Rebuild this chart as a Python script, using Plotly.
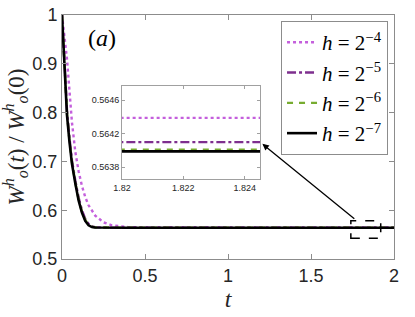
import plotly.graph_objects as go

# time samples
t = [0, 0.015, 0.03, 0.045, 0.06, 0.08, 0.1, 0.12, 0.14, 0.16, 0.18, 0.2,
     0.25, 0.3, 0.4, 0.5, 1.0, 1.5, 1.8, 1.85, 2.0]

# normalised energy W_o^h(t)/W_o^h(0) for each mesh size
w_h4 = [1.0, 0.955, 0.91, 0.845, 0.78, 0.72, 0.68, 0.65, 0.627, 0.61, 0.598, 0.589,
        0.575, 0.569, 0.5652, 0.5646, 0.56439, 0.56439, 0.56439, 0.56439, 0.56439]
w_h5 = [1.0, 0.902, 0.805, 0.748, 0.702, 0.661, 0.626, 0.600, 0.582, 0.572, 0.567, 0.5652,
        0.5644, 0.5642, 0.56411, 0.5641, 0.5641, 0.5641, 0.5641, 0.5641, 0.5641]
w_h6 = [1.0, 0.898, 0.799, 0.743, 0.698, 0.657, 0.622, 0.597, 0.580, 0.570, 0.566, 0.5648,
        0.5643, 0.5641, 0.56402, 0.56401, 0.56401, 0.56401, 0.56401, 0.56401, 0.56401]
w_h7 = [1.0, 0.895, 0.795, 0.74, 0.695, 0.655, 0.62, 0.595, 0.578, 0.569, 0.5655, 0.5646,
        0.5642, 0.5640, 0.56399, 0.56399, 0.56399, 0.56399, 0.56399, 0.56399, 0.56399]

labels = ["<i>h</i> = 2<sup>−4</sup>", "<i>h</i> = 2<sup>−5</sup>",
          "<i>h</i> = 2<sup>−6</sup>", "<i>h</i> = 2<sup>−7</sup>"]

x_ticks = [0, 0.5, 1, 1.5, 2]
y_ticks = [0.5, 0.6, 0.7, 0.8, 0.9, 1]
inset_x_ticks = [1.82, 1.822, 1.824]
inset_y_ticks = [0.5638, 0.5642, 0.5646]

series = [w_h4, w_h5, w_h6, w_h7]
colors = ["#c45fdc", "#7e2f8e", "#77ac30", "#000000"]
dashes = ["dot", "dashdot", "6px,6px", "solid"]
widths = [2.4, 2.4, 2.4, 2.6]

fig = go.Figure()
for s, c, d, w, lab in zip(series, colors, dashes, widths, labels):
    fig.add_trace(go.Scatter(x=t, y=s, mode="lines", name=lab,
                             line=dict(color=c, dash=d, width=w)))
for s, c, d, w in zip(series, colors, dashes, widths):
    fig.add_trace(go.Scatter(x=t, y=s, mode="lines", showlegend=False,
                             xaxis="x2", yaxis="y2",
                             line=dict(color=c, dash=d, width=w)))

axis_col = "#8c8c8c"
tick_font = dict(family="Liberation Sans, Arial", size=18, color="#262626")
serif = "Liberation Serif, DejaVu Serif, serif"

fig.update_layout(
    width=415, height=317,
    margin=dict(l=62, r=21, t=15, b=58, autoexpand=False),
    paper_bgcolor="white", plot_bgcolor="white",
    xaxis=dict(range=[0, 2], tickvals=x_ticks, ticktext=[str(v) for v in x_ticks],
               showgrid=False, zeroline=False, showline=True, linecolor=axis_col,
               mirror="allticks", ticks="inside", ticklen=5, tickcolor=axis_col,
               tickfont=tick_font, automargin=False,
               title=dict(text="<i>t</i>", font=dict(family=serif, size=24, color="#262626"),
                          standoff=2)),
    yaxis=dict(range=[0.5, 1], tickvals=y_ticks, ticktext=["0.5", "0.6", "0.7", "0.8", "0.9", "1"],
               showgrid=False, zeroline=False, showline=True, linecolor=axis_col,
               mirror="allticks", ticks="inside", ticklen=5, tickcolor=axis_col,
               tickfont=tick_font, automargin=False,
               title=dict(text="<i>W</i><sup><i>h</i></sup><sub><i>o</i></sub>(<i>t</i>) / <i>W</i><sup><i>h</i></sup><sub><i>o</i></sub>(0)",
                          font=dict(family=serif, size=23, color="#262626"), standoff=2)),
    xaxis2=dict(domain=[0.1807, 0.5964], anchor="y2", range=[1.82, 1.8245],
                tickvals=inset_x_ticks, ticktext=["1.82", "1.822", "1.824"],
                showgrid=False, zeroline=False, showline=True, linecolor="#a0a0a0",
                mirror="allticks", ticks="inside", ticklen=3, tickcolor="#a0a0a0",
                automargin=False,
                tickfont=dict(family="Liberation Sans, Arial", size=9, color="#262626")),
    yaxis2=dict(domain=[0.328, 0.709], anchor="x2", range=[0.56366, 0.56477],
                tickvals=inset_y_ticks, ticktext=["0.5638", "0.5642", "0.5646"],
                showgrid=False, zeroline=False, showline=True, linecolor="#a0a0a0",
                mirror="allticks", ticks="inside", ticklen=3, tickcolor="#a0a0a0",
                automargin=False,
                tickfont=dict(family="Liberation Sans, Arial", size=9, color="#262626")),
    legend=dict(x=0.982, y=0.975, xanchor="right", yanchor="top",
                bgcolor="white", bordercolor="#8c8c8c", borderwidth=1,
                font=dict(family=serif, size=21, color="#000000"),
                itemwidth=30, tracegroupgap=0),
    showlegend=True,
)

# inset background
fig.add_shape(type="rect", xref="x2 domain", yref="y2 domain", x0=0, x1=1, y0=0, y1=1,
              fillcolor="white", line=dict(width=0), layer="below")

# dashed zoom box
fig.add_shape(type="rect", xref="x", yref="y", x0=1.74, x1=1.92, y0=0.5424, y1=0.5785,
              line=dict(color="black", width=1.5, dash="dash"), layer="above")

# arrow from zoom box to inset
fig.add_annotation(x=1.207, y=0.736, xref="x", yref="y", ax=1.77, ay=0.580,
                   axref="x", ayref="y", showarrow=True, arrowhead=2, arrowsize=1.0,
                   arrowwidth=1.3, arrowcolor="black", text="")

fig.add_annotation(x=0.24, y=0.953, xref="x", yref="y", text="(<i>a</i>)", showarrow=False,
                   font=dict(family=serif, size=24, color="#000000"))

fig.write_html("out.html", config={"displayModeBar": False},
               post_script="document.body.style.margin='0px';")
